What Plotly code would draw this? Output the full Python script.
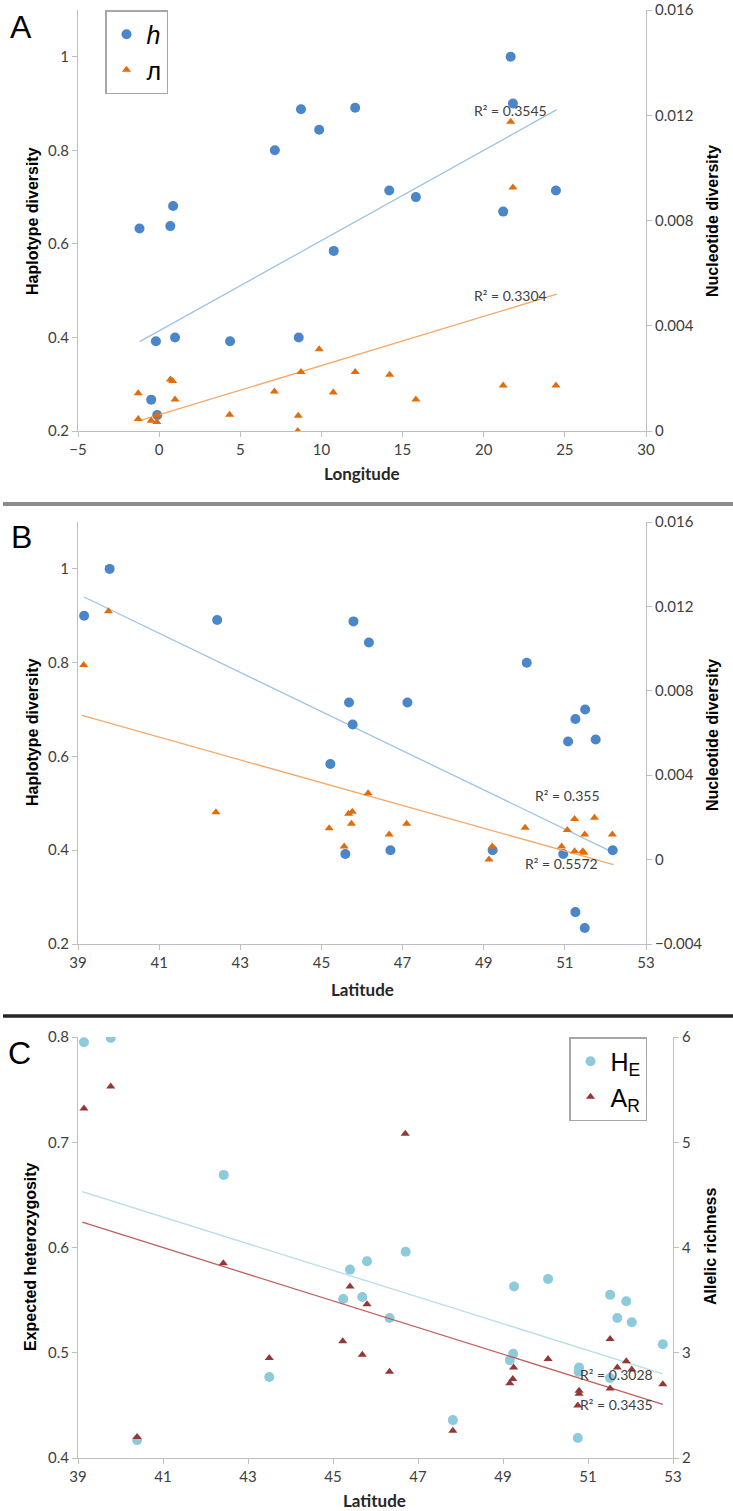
import plotly.graph_objects as go

W, H = 733, 1511

# ---------------- Data ----------------
# Panel A: haplotype diversity (h) and nucleotide diversity (pi) vs longitude
lonA_h = [21.66, 21.8, 8.74, 12.08, 9.86, 7.13, 14.18, 15.82, 24.45, 0.86,
          -1.21, 0.69, 21.2, 10.76, -0.2, 0.98, 4.37, 8.6, -0.49, -0.12]
hA = [1.0, 0.90, 0.888, 0.891, 0.844, 0.80, 0.714, 0.70, 0.714, 0.681,
      0.633, 0.638, 0.669, 0.585, 0.392, 0.40, 0.392, 0.40, 0.267, 0.234]
lonA_pi = [-1.29, -1.29, -0.49, -0.14, -0.12, 0.69, 0.83, 0.98, 4.34, 7.1, 8.57,
           8.54, 8.74, 9.86, 10.73, 12.08, 14.2, 15.82, 21.2, 24.45, 21.66, 21.8]
piA = [0.00143, 0.00046, 0.00039, 0.00034, 0.00061, 0.00196, 0.0019, 0.0012, 0.00062,
       0.0015, 0.00058, 0.0, 0.00224, 0.00311, 0.00146, 0.00224, 0.00214, 0.0012,
       0.00173, 0.00173, 0.01175, 0.00925]
# linear trendlines (end points)
trendA_h_x = [-1.2, 24.5]
trendA_h_y = [0.391, 0.887]
trendA_pi_x = [-1.2, 24.5]
trendA_pi_y = [0.00039, 0.0052]

# Panel B: h and pi vs latitude
latB_h = [39.15, 39.78, 42.43, 45.79, 46.17, 50.06, 45.68, 47.12, 45.77, 51.5, 51.26,
          51.08, 51.76, 45.22, 45.59, 46.7, 49.22, 50.96, 52.18, 51.26, 51.49]
hB = [0.90, 1.0, 0.891, 0.888, 0.843, 0.80, 0.715, 0.715, 0.668, 0.70, 0.68,
      0.632, 0.636, 0.584, 0.392, 0.40, 0.40, 0.392, 0.40, 0.268, 0.234]
latB_pi = [39.75, 39.14, 42.4, 46.15, 45.67, 45.76, 45.74, 45.19, 45.56, 46.67, 47.1,
           49.13, 49.21, 50.02, 50.92, 51.06, 51.24, 51.24, 51.44, 51.47, 51.49, 51.73, 52.17]
piB = [0.01177, 0.00922, 0.00225, 0.00314, 0.00217, 0.00227, 0.0017, 0.00148, 0.00062,
       0.00119, 0.0017, 0.0, 0.00062, 0.00151, 0.00062, 0.0014, 0.00192, 0.0004,
       0.0004, 0.00032, 0.00119, 0.00198, 0.00119]
trendB_h_x = [39.15, 52.2]
trendB_h_y = [0.94, 0.395]
trendB_pi_x = [39.1, 52.2]
trendB_pi_y = [0.00683, -0.00024]

# Panel C: expected heterozygosity (HE) and allelic richness (AR) vs latitude
latC_he = [39.14, 39.77, 42.43, 46.71, 45.8, 45.4, 45.24, 45.69, 46.33, 49.26, 50.06,
           51.52, 51.9, 51.69, 52.03, 52.76, 49.24, 49.16, 50.79, 50.78, 51.52, 43.5,
           47.82, 50.76, 40.39]
he = [0.795, 0.799, 0.669, 0.596, 0.587, 0.579, 0.551, 0.553, 0.533, 0.563, 0.57,
      0.555, 0.549, 0.533, 0.529, 0.508, 0.499, 0.493, 0.486, 0.482, 0.476, 0.477,
      0.436, 0.419, 0.417]
latC_ar = [39.14, 39.77, 46.7, 42.42, 45.4, 45.8, 45.23, 45.69, 46.33, 43.5, 49.25,
           49.23, 49.16, 50.06, 51.52, 51.9, 51.69, 52.03, 50.79, 50.79, 50.76, 51.52,
           52.76, 47.82, 40.39]
ar = [5.32, 5.53, 5.08, 3.85, 3.63, 3.46, 3.11, 2.98, 2.82, 2.95, 2.86, 2.75, 2.71,
      2.94, 3.13, 2.92, 2.86, 2.84, 2.64, 2.61, 2.5, 2.66, 2.7, 2.26, 2.2]
trendC_he_x = [39.1, 52.76]
trendC_he_y = [0.653, 0.480]
trendC_ar_x = [39.1, 52.76]
trendC_ar_y = [4.24, 2.51]

r2_labels = ["R² = 0.3545", "R² = 0.3304", "R² = 0.355", "R² = 0.5572",
             "R² = 0.3028", "R² = 0.3435"]

# ---------------- Styles ----------------
BLUE = "#4A86C8"
ORANGE = "#E36C0A"
BLUE_LINE = "#9DC3E6"
ORANGE_LINE = "#F5A766"
CYAN = "#8DCADB"
DRED = "#953735"
CYAN_LINE = "#B7DDE8"
RED_LINE = "#C0605E"
AX = "#BFBFBF"
TXT = "#404040"
TICKFONT = dict(family="Lato, sans-serif", size=15, color=TXT)


def px(x, y):
    return x / W, 1 - y / H


fig = go.Figure()


def add_panel(xa, ya_l, ya_r, x1, y1, x2, y2, t1, t2, c1, c2, lc1, lc2, n1, n2, legend):
    fig.add_trace(go.Scatter(x=t1[0], y=t1[1], mode="lines", line=dict(color=lc1, width=1.3),
                             xaxis=xa, yaxis=ya_l, showlegend=False, hoverinfo="skip"))
    fig.add_trace(go.Scatter(x=t2[0], y=t2[1], mode="lines", line=dict(color=lc2, width=1.3),
                             xaxis=xa, yaxis=ya_r, showlegend=False, hoverinfo="skip"))
    fig.add_trace(go.Scatter(x=x1, y=y1, mode="markers", name=n1,
                             marker=dict(color=c1, size=10, symbol="circle"),
                             xaxis=xa, yaxis=ya_l, showlegend=legend is not None,
                             legend=legend or "legend"))
    fig.add_trace(go.Scatter(x=x2, y=y2, mode="markers", name=n2,
                             marker=dict(color=c2, size=8, symbol="triangle-up"),
                             xaxis=xa, yaxis=ya_r, showlegend=legend is not None,
                             legend=legend or "legend"))


add_panel("x", "y", "y2", lonA_h, hA, lonA_pi, piA,
          (trendA_h_x, trendA_h_y), (trendA_pi_x, trendA_pi_y),
          BLUE, ORANGE, BLUE_LINE, ORANGE_LINE, "<i>h</i>", "л", "legend")
add_panel("x2", "y3", "y4", latB_h, hB, latB_pi, piB,
          (trendB_h_x, trendB_h_y), (trendB_pi_x, trendB_pi_y),
          BLUE, ORANGE, BLUE_LINE, ORANGE_LINE, "h", "л", None)
add_panel("x3", "y5", "y6", latC_he, he, latC_ar, ar,
          (trendC_he_x, trendC_he_y), (trendC_ar_x, trendC_ar_y),
          CYAN, DRED, CYAN_LINE, RED_LINE, "H<sub>E</sub>", "A<sub>R</sub>", "legend2")


def xax(domain, rng, dtick, anchor):
    return dict(domain=domain, range=rng, dtick=dtick, tick0=rng[0], anchor=anchor,
                showline=True, linecolor=AX, linewidth=1, ticks="outside", tickcolor=AX,
                ticklen=5, showgrid=False, zeroline=False, tickfont=TICKFONT, automargin=False)


def yax(domain, rng, tickvals, anchor, side="left", overlay=None):
    d = dict(domain=domain, range=rng, tickvals=tickvals, anchor=anchor, side=side,
             showline=True, linecolor=AX, linewidth=1, ticks="outside", tickcolor=AX,
             ticklen=5, showgrid=False, zeroline=False, tickfont=TICKFONT, automargin=False)
    if overlay:
        d["overlaying"] = overlay
    return d


xdomAB = [78 / W, 646 / W]
xdomC = [78 / W, 673 / W]
ydomA = [1 - 431 / H, 1 - 10 / H]
ydomB = [1 - 944 / H, 1 - 522 / H]
ydomC = [1 - 1458 / H, 1 - 1037 / H]

hticks = [0.2, 0.4, 0.6, 0.8, 1.0]
fig.update_layout(
    xaxis=xax(xdomAB, [-5, 30], 5, "y"),
    yaxis=yax(ydomA, [0.2, 1.1], hticks, "x"),
    yaxis2=yax(ydomA, [0, 0.016], [0, 0.004, 0.008, 0.012, 0.016], "x", "right", "y"),
    xaxis2=xax(xdomAB, [39, 53], 2, "y3"),
    yaxis3=yax(ydomB, [0.2, 1.1], hticks, "x2"),
    yaxis4=yax(ydomB, [-0.004, 0.016], [-0.004, 0, 0.004, 0.008, 0.012, 0.016], "x2", "right", "y3"),
    xaxis3=xax(xdomC, [39, 53], 2, "y5"),
    yaxis5=yax(ydomC, [0.4, 0.8], [0.4, 0.5, 0.6, 0.7, 0.8], "x3"),
    yaxis6=yax(ydomC, [2, 6], [2, 3, 4, 5, 6], "x3", "right", "y5"),
)

LEGFONT = dict(family="Liberation Sans, Arial, sans-serif", size=25, color="#000000")
fig.update_layout(
    width=W, height=H, margin=dict(l=0, r=0, t=0, b=0, autoexpand=False),
    paper_bgcolor="white", plot_bgcolor="white",
    legend=dict(x=105 / W, y=1 - 10 / H, xanchor="left", yanchor="top",
                bordercolor="#A6A6A6", borderwidth=1.5, bgcolor="white",
                font=LEGFONT, itemwidth=30, tracegroupgap=0),
    legend2=dict(x=569 / W, y=1 - 1037 / H, xanchor="left", yanchor="top",
                 bordercolor="#A6A6A6", borderwidth=1.5, bgcolor="white",
                 font=LEGFONT, itemwidth=30, tracegroupgap=0),
)

annotations = []


def text(x, y, s, size, bold=False, angle=0, family="Liberation Sans, Arial, sans-serif",
         color="#000000", xanchor="center"):
    ax_, ay_ = px(x, y)
    annotations.append(dict(x=ax_, y=ay_, xref="paper", yref="paper",
                            text=(f"<b>{s}</b>" if bold else s),
                            showarrow=False, textangle=angle, xanchor=xanchor, yanchor="middle",
                            font=dict(family=family, size=size, color=color)))


# panel letters
text(21, 27, "A", 32)
text(21, 537, "B", 32)
text(19, 1053, "C", 32)

# y axis titles
text(32, 221, "Haplotype diversity", 16, True, -90)
text(712, 221, "Nucleotide diversity", 16, True, -90)
text(32, 732, "Haplotype diversity", 16, True, -90)
text(712, 735, "Nucleotide diversity", 16, True, -90)
text(30, 1257, "Expected heterozygosity", 16, True, -90)
text(710, 1247, "Allelic richness", 16, True, -90)

# x axis titles
XT = "Lato, sans-serif"
text(362, 474, "Longitude", 17, True, family=XT, color="#262626")
text(362, 989, "Latitude", 17, True, family=XT, color="#262626")
text(374, 1500, "Latitude", 17, True, family=XT, color="#262626")

# R² labels
RF = "Lato, sans-serif"
text(472, 110, r2_labels[0], 14, family=RF, color=TXT, xanchor="left")
text(472, 295, r2_labels[1], 14, family=RF, color=TXT, xanchor="left")
text(533, 795, r2_labels[2], 14, family=RF, color=TXT, xanchor="left")
text(523, 864, r2_labels[3], 14, family=RF, color=TXT, xanchor="left")
text(578, 1374, r2_labels[4], 14, family=RF, color=TXT, xanchor="left")
text(578, 1404, r2_labels[5], 14, family=RF, color=TXT, xanchor="left")

fig.update_layout(annotations=annotations)

# separators
shapes = []
x0, _ = px(3, 0)
_, ys1 = px(0, 504)
_, ys2 = px(0, 1016)
shapes.append(dict(type="line", xref="paper", yref="paper", x0=x0, x1=1, y0=ys1, y1=ys1,
                   line=dict(color="#8C8C8C", width=4)))
shapes.append(dict(type="line", xref="paper", yref="paper", x0=x0, x1=1, y0=ys2, y1=ys2,
                   line=dict(color="#262626", width=3.5)))
fig.update_layout(shapes=shapes)

fig.write_html("out.html", config={"displayModeBar": False},
               post_script="document.body.style.margin='0';")
